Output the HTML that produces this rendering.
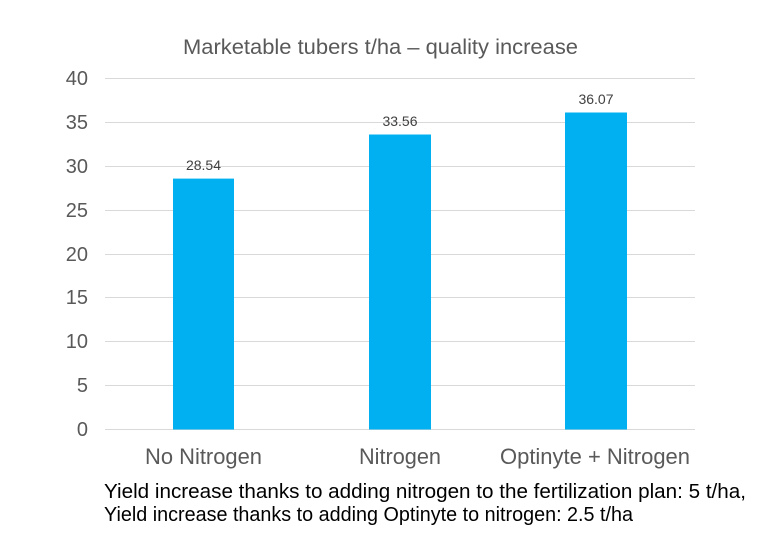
<!DOCTYPE html>
<html><head><style>
body{margin:0;background:#fff;}
svg{display:block;font-family:"Liberation Sans",Arial,sans-serif;}
</style></head><body>
<svg width="759" height="533" xmlns="http://www.w3.org/2000/svg">
<rect width="759" height="533" fill="#fff"/>
<text x="183" y="54" font-size="21" fill="#595959" textLength="395" lengthAdjust="spacingAndGlyphs">Marketable tubers t/ha – quality increase</text>
<g stroke="#d9d9d9" stroke-width="1">
<line x1="105" x2="695" y1="78.5" y2="78.5"/>
<line x1="105" x2="695" y1="122.5" y2="122.5"/>
<line x1="105" x2="695" y1="166.5" y2="166.5"/>
<line x1="105" x2="695" y1="210.5" y2="210.5"/>
<line x1="105" x2="695" y1="254.5" y2="254.5"/>
<line x1="105" x2="695" y1="297.5" y2="297.5"/>
<line x1="105" x2="695" y1="341.5" y2="341.5"/>
<line x1="105" x2="695" y1="385.5" y2="385.5"/>
<line x1="105" x2="695" y1="429.5" y2="429.5"/>
</g>
<g font-size="20" fill="#595959" text-anchor="end">
<text x="88" y="85">40</text>
<text x="88" y="129">35</text>
<text x="88" y="173">30</text>
<text x="88" y="217">25</text>
<text x="88" y="261">20</text>
<text x="88" y="304">15</text>
<text x="88" y="348">10</text>
<text x="88" y="392">5</text>
<text x="88" y="436">0</text>
</g>
<g fill="#00B0F0">
<rect x="173" y="178.6" width="61" height="250.9"/>
<rect x="369" y="134.5" width="62" height="295"/>
<rect x="565" y="112.5" width="62" height="317"/>
</g>
<g font-size="14" fill="#404040" text-anchor="middle">
<text x="203.5" y="170">28.54</text>
<text x="400" y="126">33.56</text>
<text x="596" y="104">36.07</text>
</g>
<g font-size="22" fill="#595959">
<text x="145" y="464" textLength="117" lengthAdjust="spacingAndGlyphs">No Nitrogen</text>
<text x="359" y="464" textLength="82" lengthAdjust="spacingAndGlyphs">Nitrogen</text>
<text x="500" y="464" textLength="190" lengthAdjust="spacingAndGlyphs">Optinyte + Nitrogen</text>
</g>
<g font-size="20" fill="#000">
<text x="104" y="498" textLength="642" lengthAdjust="spacingAndGlyphs">Yield increase thanks to adding nitrogen to the fertilization plan: 5 t/ha,</text>
<text x="104" y="521" textLength="529" lengthAdjust="spacingAndGlyphs">Yield increase thanks to adding Optinyte to nitrogen: 2.5 t/ha</text>
</g>
</svg>
</body></html>
